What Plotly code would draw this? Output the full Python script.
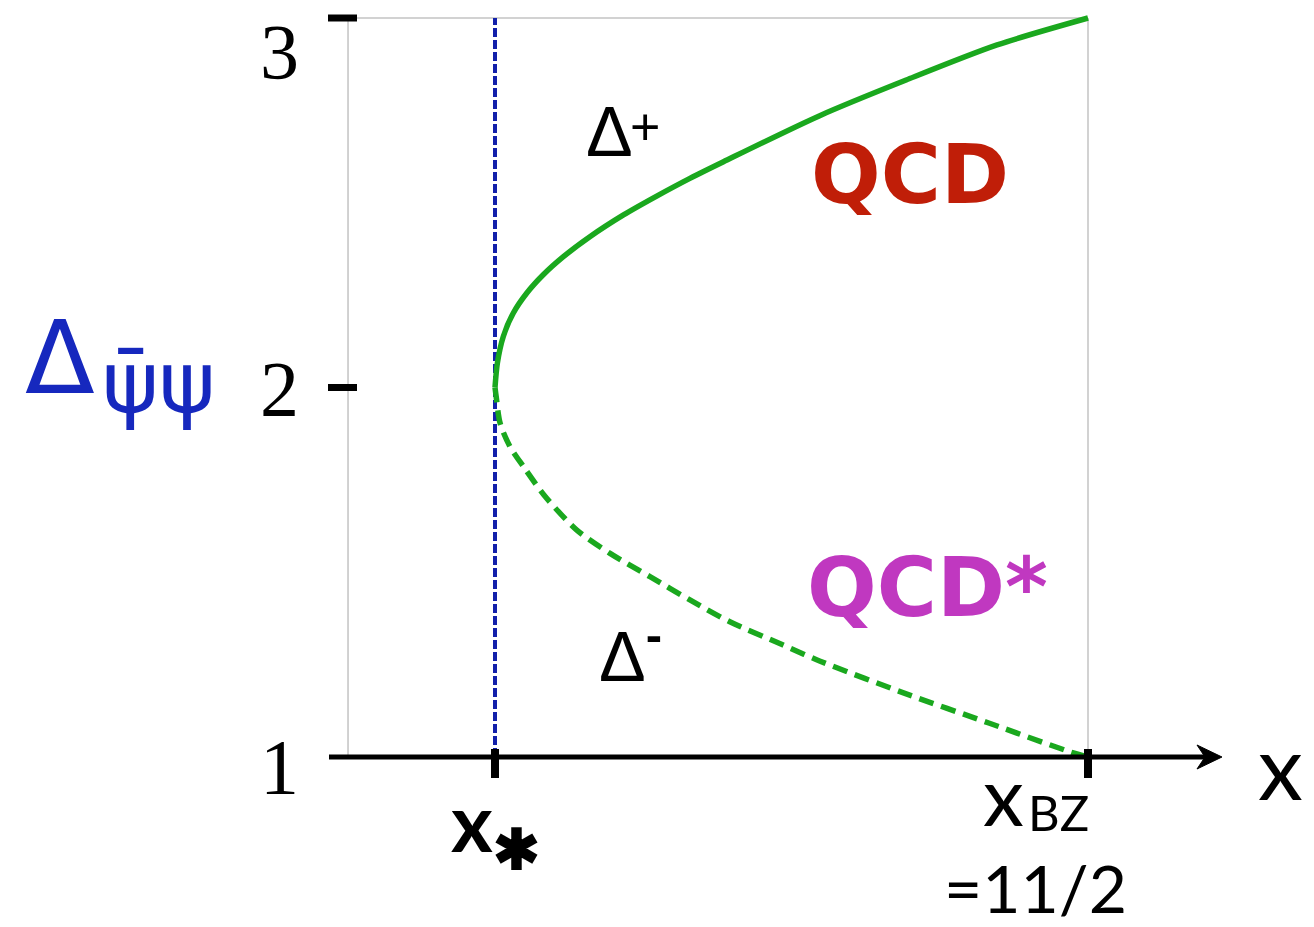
import plotly.graph_objects as go

# Special points on the x axis
x_star = 4.0
x_bz = 5.5

# Upper branch Delta^+ (solid) : x, Delta
dplus_x = [4.000, 4.006, 4.021, 4.046, 4.080, 4.122, 4.173, 4.240, 4.325, 4.409, 4.493, 4.578,
           4.820, 5.040, 5.270, 5.500]
dplus_y = [2.000, 2.066, 2.138, 2.201, 2.255, 2.305, 2.354, 2.408, 2.467, 2.518, 2.566, 2.611,
           2.735, 2.832, 2.927, 3.000]

# Lower branch Delta^- (dashed) : x, Delta
dminus_x = [4.000, 4.003, 4.013, 4.038, 4.072, 4.127, 4.207, 4.291, 4.392, 4.493, 4.594, 4.729,
            4.821, 5.035, 5.249, 5.463, 5.500]
dminus_y = [2.000, 1.975, 1.903, 1.840, 1.786, 1.705, 1.614, 1.551, 1.488, 1.425, 1.366, 1.303,
            1.260, 1.173, 1.092, 1.011, 1.000]

y_ticks = [1, 2, 3]
y_tick_text = ["1", "2", "3"]

GREEN = "rgb(26,168,30)"
BLUE = "rgb(22,40,190)"
RED = "rgb(192,30,8)"
MAGENTA = "rgb(192,56,192)"

fig = go.Figure()

# vertical marker at x_*
fig.add_trace(go.Scatter(
    x=[x_star, x_star], y=[1, 3], mode="lines",
    line=dict(color="rgb(18,32,170)", width=4, dash="9px,3px"),
    hoverinfo="skip"))

fig.add_trace(go.Scatter(
    x=dminus_x, y=dminus_y, mode="lines",
    line=dict(color=GREEN, width=5.5, dash="15px,8px", shape="spline", smoothing=0.8),
    hoverinfo="skip"))

fig.add_trace(go.Scatter(
    x=dplus_x, y=dplus_y, mode="lines",
    line=dict(color=GREEN, width=5.5, shape="spline", smoothing=0.8),
    hoverinfo="skip"))

x_left = 3.6282   # left edge of the frame
x_ax0 = 3.5801    # start of the x-axis line
tick_l, tick_r = 3.5776, 3.6509

shapes = []
gray = dict(color="rgb(165,165,165)", width=1)
shapes.append(dict(type="line", x0=x_left, x1=x_bz, y0=3, y1=3, line=gray, layer="below"))
shapes.append(dict(type="line", x0=x_left, x1=x_left, y0=1, y1=3, line=gray, layer="below"))
shapes.append(dict(type="line", x0=x_bz, x1=x_bz, y0=1, y1=3, line=gray, layer="below"))

# x axis with arrow
shapes.append(dict(type="line", x0=x_ax0, x1=5.80, y0=1, y1=1, line=dict(color="black", width=5)))
shapes.append(dict(type="path",
                   path="M 5.8389 1.0 L 5.7757 1.0325 L 5.7960 1.0 L 5.7757 0.9675 Z",
                   fillcolor="black", line=dict(color="black", width=1)))

# y tick dashes
for yv in (2, 3):
    shapes.append(dict(type="line", x0=tick_l, x1=tick_r, y0=yv, y1=yv,
                       line=dict(color="black", width=7)))
# x tick marks
for xv in (x_star, x_bz):
    shapes.append(dict(type="line", x0=xv, x1=xv, y0=1.0217, y1=0.9432,
                       line=dict(color="black", width=8)))

ann = []


def label(x, y, text, family, size, color="black", xanchor="center"):
    ann.append(dict(x=x, y=y, text=text, showarrow=False, xanchor=xanchor, yanchor="middle",
                    font=dict(family=family, size=size, color=color)))


tick_pos = {1: 0.973, 2: 1.996, 3: 2.908}
for v, t in zip(y_ticks, y_tick_text):
    label(3.5093, tick_pos[v], t, "Liberation Serif", 78, xanchor="right")

# y-axis title
label(2.8997, 2.080, "Δ", "DejaVu Sans", 102, BLUE)
label(3.1476, 2.015, "ψ\u0304ψ", "DejaVu Sans", 86, BLUE)

# branch labels
label(4.2251, 2.6926, "Δ", "Liberation Sans", 70, xanchor="left")
label(4.3790, 2.7060, "+", "Liberation Sans", 52)
label(4.2580, 1.2830, "Δ<sup><b>-</b></sup>", "Liberation Sans", 70, xanchor="left")

label(5.0485, 2.577, "<b>QCD</b>", "DejaVu Sans", 82, RED)
label(5.094, 1.4583, "<b>QCD*</b>", "DejaVu Sans", 82, MAGENTA)

# x-axis labels
label(x_star, 0.811, "<b>x<sub>✱</sub></b>", "Lato", 80)
label(5.2875, 0.9012, "x", "Lato", 82)
label(5.4266, 0.8525, "BZ", "Lato", 49)
label(5.3684, 0.6455, "=11/2", "Lato", 66)
label(5.9857, 0.9783, "x", "Lato", 90)

fig.update_layout(
    width=1314, height=927,
    margin=dict(l=0, r=0, t=0, b=0),
    paper_bgcolor="white", plot_bgcolor="white",
    showlegend=False,
    shapes=shapes, annotations=ann,
    xaxis=dict(range=[2.74789, 6.07167], visible=False, fixedrange=True),
    yaxis=dict(range=[0.53992, 3.04871], visible=False, fixedrange=True),
)

fig.write_html("out.html")
